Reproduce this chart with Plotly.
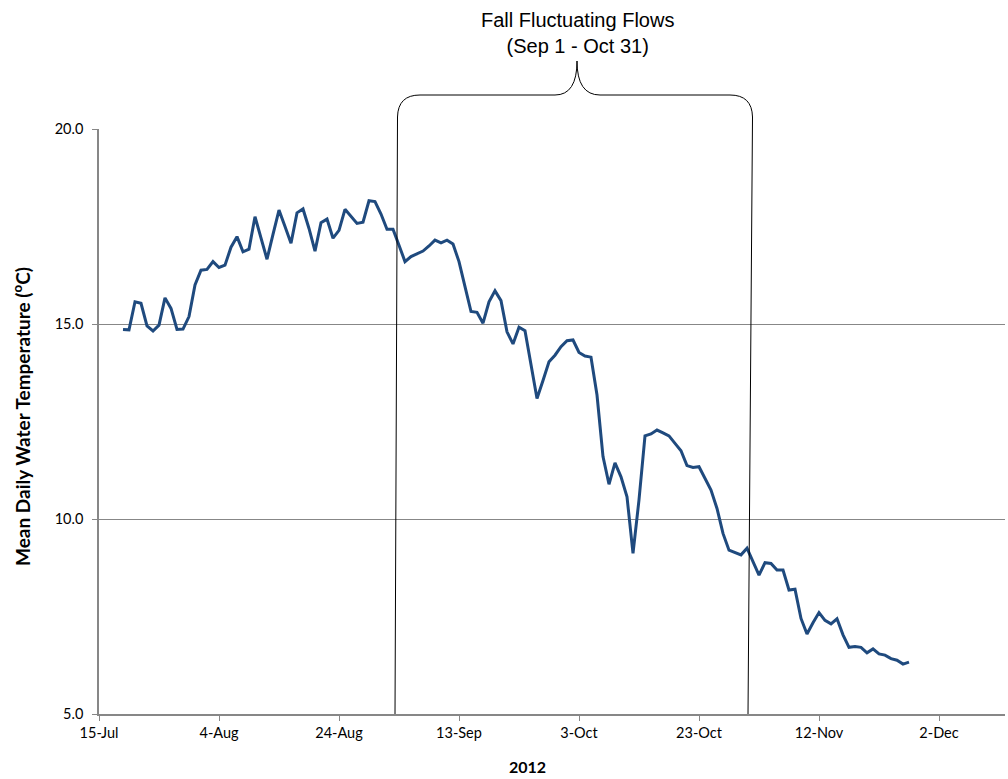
import pandas as pd
import plotly.graph_objects as go

# Mean daily water temperature (deg C), one value per day starting 19 Jul 2012
start_date = "2012-07-19"
temps = [
    14.86, 14.85, 15.57, 15.53, 14.95, 14.82, 14.97, 15.67, 15.40, 14.86,
    14.87, 15.19, 16.00, 16.38, 16.40, 16.60, 16.45, 16.51, 16.97, 17.24,
    16.85, 16.92, 17.75, 17.20, 16.66, 17.30, 17.92, 17.50, 17.07, 17.85,
    17.95, 17.45, 16.87, 17.60, 17.69, 17.20, 17.40, 17.94, 17.75, 17.58,
    17.61, 18.16, 18.14, 17.82, 17.43, 17.43, 17.02, 16.60, 16.73, 16.79,
    16.87, 17.00, 17.15, 17.08, 17.15, 17.05, 16.60, 15.96, 15.32, 15.30,
    15.02, 15.57, 15.85, 15.60, 14.80, 14.49, 14.92, 14.83, 13.95, 13.09,
    13.55, 14.03, 14.20, 14.42, 14.57, 14.59, 14.27, 14.18, 14.15, 13.18,
    11.60, 10.89, 11.44, 11.08, 10.57, 9.12, 10.49, 12.13, 12.18, 12.28,
    12.21, 12.13, 11.94, 11.75, 11.37, 11.32, 11.34, 11.04, 10.74, 10.27,
    9.63, 9.20, 9.14, 9.08, 9.25, 8.91, 8.56, 8.88, 8.86, 8.69,
    8.69, 8.18, 8.20, 7.45, 7.05, 7.34, 7.60, 7.40, 7.31, 7.44,
    7.03, 6.71, 6.73, 6.71, 6.57, 6.67, 6.54, 6.51, 6.42, 6.38,
    6.28, 6.33,
]
dates = pd.date_range(start_date, periods=len(temps), freq="D")

x_ticks = ["2012-07-15", "2012-08-04", "2012-08-24", "2012-09-13",
           "2012-10-03", "2012-10-23", "2012-11-12", "2012-12-02"]
x_range = ["2012-07-15", "2012-12-13"]
y_range = [5, 20]

W, H = 1008, 779
L, R, T, B = 99, 3, 129, 65
PW, PH = W - L - R, H - T - B

def px(xp):
    return (xp - L) / PW

def py(yp):
    return (H - B - yp) / PH

grid = "#878787"
tick_font = dict(family="Lato, Carlito, sans-serif", size=14.5, color="#000000")

fig = go.Figure()
fig.add_trace(go.Scatter(
    x=dates, y=temps, mode="lines",
    line=dict(color="#1F4A7E", width=3),
    showlegend=False, hoverinfo="x+y",
))

# Bracket marking the fall fluctuating flow period
bracket = (
    f"M {px(395)},{py(714)} L {px(397.5)},{py(117)} "
    f"Q {px(398)},{py(95)} {px(420)},{py(95)} "
    f"L {px(555)},{py(95)} "
    f"Q {px(577)},{py(95)} {px(577)},{py(61)} "
    f"Q {px(577)},{py(95)} {px(600)},{py(95)} "
    f"L {px(730)},{py(95)} "
    f"Q {px(752)},{py(95)} {px(752.5)},{py(117)} "
    f"L {px(748)},{py(714)}"
)
fig.add_shape(type="path", path=bracket, xref="paper", yref="paper",
              line=dict(color="#000000", width=1))

fig.add_annotation(
    text="Fall Fluctuating Flows<br>(Sep 1 - Oct 31)",
    xref="paper", yref="paper", x=px(577), y=py(33),
    xanchor="center", yanchor="middle",
    showarrow=False, align="center",
    font=dict(family="Liberation Sans, Arial, sans-serif", size=20, color="#000000"),
)
fig.add_annotation(
    text="<b>Mean Daily Water Temperature (<sup>o</sup>C)</b>",
    xref="paper", yref="paper", x=px(21), y=py(417), textangle=-90,
    xanchor="center", yanchor="middle",
    showarrow=False,
    font=dict(family="Lato, Carlito, sans-serif", size=19, weight=700,
              color="#000000"),
)
fig.add_annotation(
    text="<b>2012</b>",
    xref="paper", yref="paper", x=px(527), y=py(767),
    xanchor="center", yanchor="middle",
    showarrow=False,
    font=dict(family="Lato, Carlito, sans-serif", size=16, weight=700,
              color="#000000"),
)

fig.update_layout(
    width=W, height=H,
    margin=dict(l=L, r=R, t=T, b=B),
    paper_bgcolor="#FFFFFF", plot_bgcolor="#FFFFFF",
    xaxis=dict(
        type="date", range=x_range, tickvals=x_ticks, tickformat="%-d-%b",
        showgrid=False, zeroline=False,
        showline=True, linecolor=grid, linewidth=1.5,
        ticks="outside", ticklen=5, tickcolor=grid, tickwidth=1,
        tickfont=tick_font,
    ),
    yaxis=dict(
        range=y_range, dtick=5, tick0=5, tickformat=".1f",
        showgrid=True, gridcolor=grid, gridwidth=1, zeroline=False,
        showline=True, linecolor=grid, linewidth=1.5,
        ticks="outside", ticklen=5, tickcolor=grid, tickwidth=1,
        ticklabelstandoff=6,
        tickfont=tick_font,
    ),
)

fig.write_html("out.html")
